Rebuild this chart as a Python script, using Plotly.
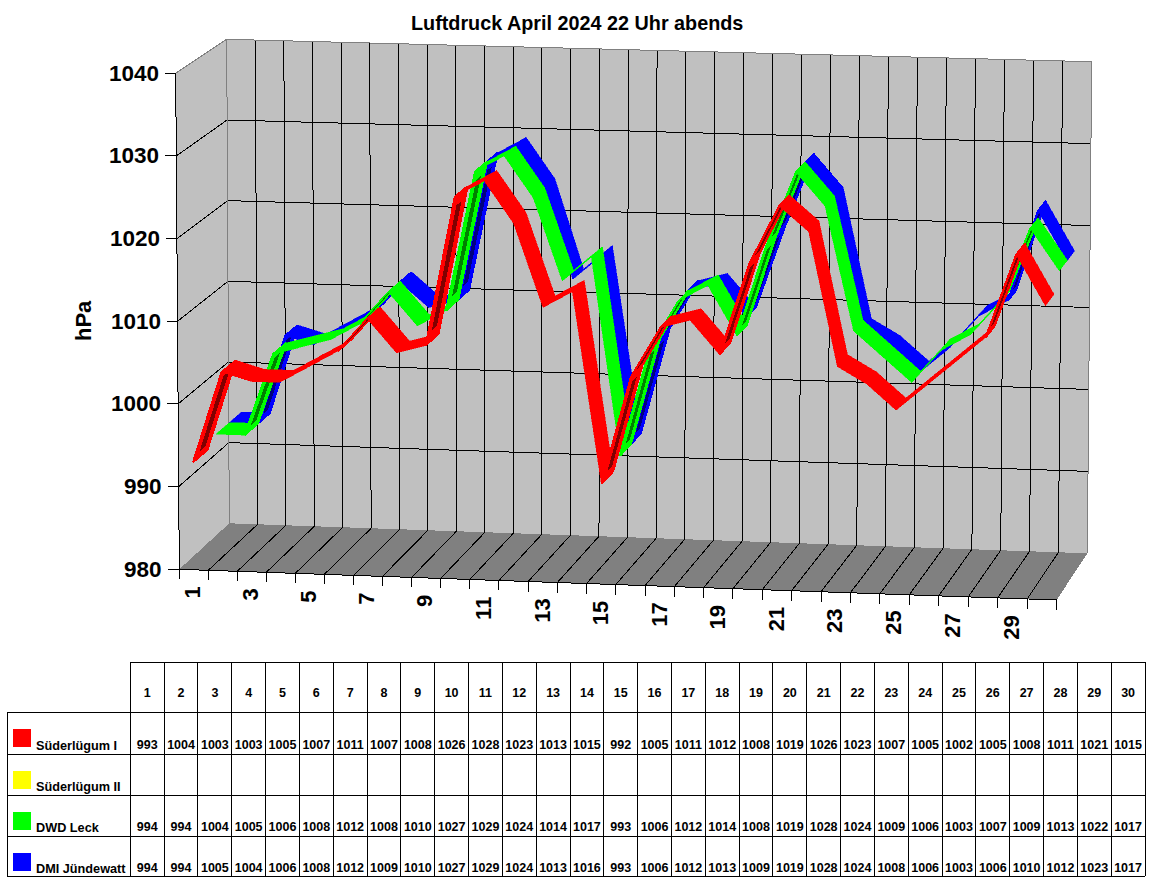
"""Luftdruck April 2024: Excel-style 3D line chart with data table, drawn on a pixel-sized xy axis."""
import plotly.graph_objects as go

days = list(range(1, 31))
hpa_ticks = [980, 990, 1000, 1010, 1020, 1030, 1040]
x_tick_days = list(range(1, 31, 2))

sued_1 = [993, 1004, 1003, 1003, 1005, 1007, 1011, 1007, 1008, 1026, 1028, 1023, 1013, 1015, 992,
          1005, 1011, 1012, 1008, 1019, 1026, 1023, 1007, 1005, 1002, 1005, 1008, 1011, 1021, 1015]
sued_2 = [None] * 30
leck = [994, 994, 1004, 1005, 1006, 1008, 1012, 1008, 1010, 1027, 1029, 1024, 1014, 1017, 993,
        1006, 1012, 1014, 1008, 1019, 1028, 1024, 1009, 1006, 1003, 1007, 1009, 1013, 1022, 1017]
juendewatt = [994, 994, 1005, 1004, 1006, 1008, 1012, 1009, 1010, 1027, 1029, 1024, 1013, 1016, 993,
              1006, 1012, 1013, 1009, 1019, 1028, 1024, 1008, 1006, 1003, 1006, 1010, 1012, 1023, 1017]

series_names = ["Süderlügum I", "Süderlügum II", "DWD Leck", "DMI Jündewatt"]
series_values = [sued_1, sued_2, leck, juendewatt]
series_colors = ["#ff0000", "#ffff00", "#00ff00", "#0000ff"]
dark_colors = ["#800000", "#808000", "#008000", "#000080"]

# corners of the 3D box on the page (front/back, bottom/top, left/right)
FBL, FBR = (179.3, 569.3), (1056.7, 600.0)
BBL, BBR = (229.3, 523.3), (1087.3, 553.3)
FTL, FTR = (175.7, 73.3), (1062.7, 96.4)
BTL, BTR = (226.7, 39.3), (1091.7, 61.7)

RIBBON = [(0.0, 0.29), (0.24, 0.50), (0.46, 0.73), (0.71, 0.97)]  # depth slot per series
PERSP = 1.01  # days get slightly wider towards the right

# table grid
TAB_L, TAB_C0, TAB_R = 7.3, 130.3, 1145.0
TAB_Y = [662.3, 712.3, 754.3, 795.3, 836.3, 876.3]
COL_W = (TAB_R - TAB_C0) / 30


def proj(u, hpa, w):
    """u 0..1 along the days, w 0..1 into the depth -> page position."""
    v = (hpa - 980) / 60
    u = u / (u + PERSP * (1 - u))
    pts = []
    for i in (0, 1):
        a = lambda p, q: (p[i] * (1 - u) + q[i] * u)
        front = a(FBL, FBR) * (1 - v) + a(FTL, FTR) * v
        back = a(BBL, BBR) * (1 - v) + a(BTL, BTR) * v
        pts.append(front * (1 - w) + back * w)
    return tuple(pts)


def day_u(d):
    return (d - 0.5) / 30


def area(poly):
    s = 0
    for (x0, y0), (x1, y1) in zip(poly, poly[1:] + poly[:1]):
        s += x0 * y1 - x1 * y0
    return s


fig = go.Figure()


def poly(points, color, line=0):
    xs = [p[0] for p in points] + [points[0][0]]
    ys = [p[1] for p in points] + [points[0][1]]
    fig.add_trace(go.Scatter(x=xs, y=ys, mode="lines", fill="toself", fillcolor=color,
                             line=dict(color=color, width=line), hoverinfo="skip"))


def seg(a, b, color, width=1):
    fig.add_trace(go.Scatter(x=[a[0], b[0]], y=[a[1], b[1]], mode="lines",
                             line=dict(color=color, width=width), hoverinfo="skip"))


# walls and floor
poly([BBL, BBR, BTR, BTL], "#c0c0c0")
poly([FBL, BBL, BTL, FTL], "#c0c0c0")
poly([FBL, FBR, BBR, BBL], "#808080")

for h in hpa_ticks[1:-1]:
    seg(proj(0, h, 0), proj(0, h, 1), "black")
    seg(proj(0, h, 1), proj(1, h, 1), "black")
for i in range(1, 30):
    seg(proj(i / 30, 980, 1), proj(i / 30, 1040, 1), "black")
    seg(proj(i / 30, 980, 0), proj(i / 30, 980, 1), "black")

seg(proj(0, 1040, 0), proj(0, 1040, 1), "#808080", 1)
seg(proj(0, 1040, 1), proj(1, 1040, 1), "#808080", 1)
seg(proj(1, 1040, 1), proj(1, 980, 1), "#808080", 1)
seg(proj(0, 1040, 1), proj(0, 980, 1), "#808080", 1)
seg(proj(0, 980, 0), proj(0, 1040, 0), "black")
seg(proj(0, 980, 0), proj(1, 980, 0), "black")

# axis ticks
for h in hpa_ticks:
    x, y = proj(0, h, 0)
    seg((x - 11, y), (x, y), "black")
    fig.add_annotation(x=x - 15, y=y, text=f"<b>{h}</b>", showarrow=False, xanchor="right",
                       yanchor="middle", font=dict(size=22.5, family="Liberation Sans", color="black"))
for i in range(31):
    x, y = proj(i / 30, 980, 0)
    seg((x, y), (x, y + 10), "black")
for d in x_tick_days:
    x, y = proj(day_u(d), 980, 0)
    fig.add_annotation(x=x - 1, y=y + 15, text=f"<b>{d}</b>", showarrow=False, textangle=-90,
                       xanchor="center", yanchor="top",
                       font=dict(size=22, family="Liberation Sans", color="black"))

# ribbons, back to front
for s in (3, 2, 1, 0):
    vals = series_values[s]
    w0, w1 = RIBBON[s]
    for i in range(29):
        if vals[i] is None or vals[i + 1] is None:
            continue
        u0, u1 = day_u(days[i]), day_u(days[i + 1])
        n0, f0 = proj(u0, vals[i], w0), proj(u0, vals[i], w1)
        n1, f1 = proj(u1, vals[i + 1], w0), proj(u1, vals[i + 1], w1)
        quad = [n0, f0, f1, n1]
        rising = area(quad) < 0
        poly(quad, series_colors[s], 2 if rising else 0.5)
        if rising:
            # underside of the ribbon shows darker on the steep climbs
            ws, we = w0 + 0.3 * (w1 - w0), w0 + 0.7 * (w1 - w0)
            ua, ub = u0 + 0.08 * (u1 - u0), u0 + 0.92 * (u1 - u0)
            va = vals[i] + 0.08 * (vals[i + 1] - vals[i])
            vb = vals[i] + 0.92 * (vals[i + 1] - vals[i])
            poly([proj(ua, va, ws), proj(ua, va, we), proj(ub, vb, we), proj(ub, vb, ws)], dark_colors[s])

# data table
for y in TAB_Y[1:]:
    seg((TAB_L, y), (TAB_R, y), "black")
seg((TAB_C0, TAB_Y[0]), (TAB_R, TAB_Y[0]), "black")
seg((TAB_L, TAB_Y[1]), (TAB_L, TAB_Y[-1]), "black")
for i in range(31):
    x = TAB_C0 + i * COL_W
    seg((x, TAB_Y[0]), (x, TAB_Y[-1]), "black")

cell_font = dict(size=12.5, family="Liberation Sans", color="black")
col_x = [TAB_C0 + (d - 0.5) * COL_W for d in days]
fig.add_trace(go.Scatter(x=col_x, y=[694] * 30, mode="text", text=[f"<b>{d}</b>" for d in days],
                         textfont=cell_font, hoverinfo="skip"))
for r, (name, vals) in enumerate(zip(series_names, series_values)):
    y_txt = TAB_Y[r + 1] + 33.5 - (0.5 if r else 0)
    poly([(13, TAB_Y[r + 1] + 16.7), (31, TAB_Y[r + 1] + 16.7), (31, TAB_Y[r + 1] + 34.7), (13, TAB_Y[r + 1] + 34.7)],
         series_colors[r])
    fig.add_annotation(x=34, y=y_txt, text=f"<b>{name}</b>", showarrow=False, xanchor="left",
                       yanchor="middle", font=dict(size=12.7, family="Liberation Sans", color="black"))
    fig.add_trace(go.Scatter(x=col_x, y=[y_txt] * 30, mode="text",
                             text=[f"<b>{v}</b>" if v is not None else "" for v in vals],
                             textfont=cell_font, hoverinfo="skip"))

fig.add_annotation(x=576.5, y=23, text="<b>Luftdruck April 2024 22 Uhr abends</b>", showarrow=False,
                   xanchor="center", yanchor="middle", font=dict(size=19.8, family="Liberation Sans", color="black"))
fig.add_annotation(x=83, y=321, text="<b>hPa</b>", showarrow=False, textangle=-90, xanchor="center",
                   yanchor="middle", font=dict(size=22, family="Liberation Sans", color="black"))

fig.update_layout(width=1152, height=882, margin=dict(l=0, r=0, t=0, b=0), showlegend=False,
                  plot_bgcolor="white", paper_bgcolor="white",
                  xaxis=dict(range=[0, 1152], visible=False, fixedrange=True),
                  yaxis=dict(range=[882, 0], visible=False, fixedrange=True))
# the original is an aliased screenshot: no smoothing on lines and polygons
fig.write_html("out.html", config=dict(displayModeBar=False),
               post_script="document.body.style.margin='0';document.body.style.overflow='hidden';"
                           "var st=document.createElement('style');"
                           "st.textContent='.scatterlayer path{shape-rendering:crispEdges}';"
                           "document.head.appendChild(st);")
